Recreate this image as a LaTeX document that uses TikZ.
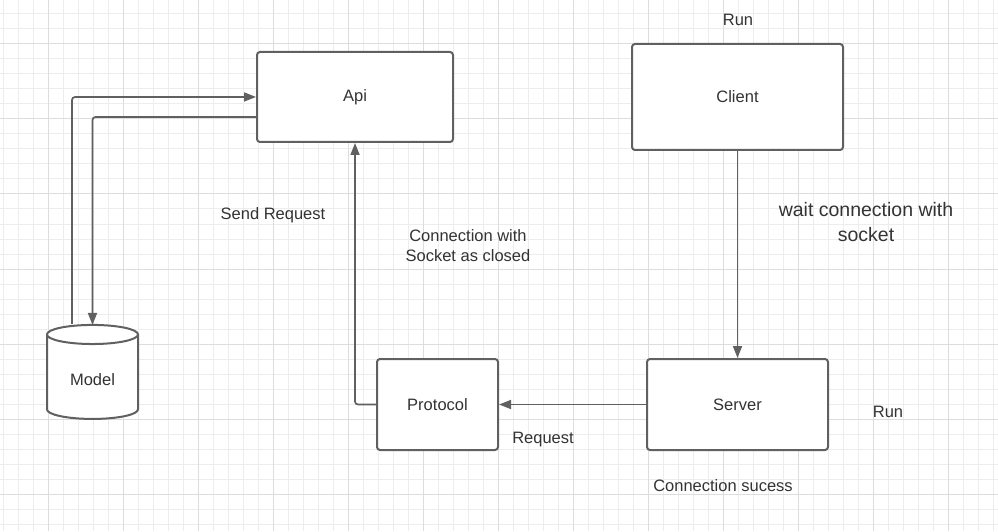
\documentclass[tikz,border=0pt]{standalone}
\usepackage{fontspec}
\setmainfont{Liberation Sans}
\usetikzlibrary{positioning}
\usetikzlibrary{shapes.geometric}
\usetikzlibrary{arrows.meta}
\definecolor{linegray}{HTML}{606060}
\definecolor{textgray}{HTML}{333333}
\definecolor{minorgrid}{HTML}{EDEDED}
\definecolor{majorgrid}{HTML}{DDDDDD}
\tikzset{
	box/.style={draw=linegray, rectangle, rounded corners=3pt, line width=2pt, fill=white, text=textgray, font=\fontsize{16.5}{20}\selectfont},
	store/.style={draw=linegray, cylinder, shape border rotate=90, aspect=0.37, line width=2pt, fill=white, text=textgray, text height=14pt, font=\fontsize{16.5}{20}\selectfont},
	note/.style={text=textgray, inner sep=0pt, align=center, font=\fontsize{16.5}{20}\selectfont},
	bignote/.style={text=textgray, inner sep=0pt, align=center, font=\fontsize{19.5}{25}\selectfont},
}

\begin{document}
\begin{tikzpicture}[x=1pt, y=1pt]
			\useasboundingbox (0,0) rectangle (998,531);
			\fill[white] (0,0) rectangle (998,531);
			% grid
			\foreach \gx in {3.3,18.3,...,998} \draw[minorgrid, line width=1pt] (\gx,0) -- (\gx,531);
			\foreach \gy in {7,22,...,531} \draw[minorgrid, line width=1pt] (0,\gy) -- (998,\gy);
			\foreach \gx in {48.3,123.3,...,998} \draw[majorgrid, line width=1pt] (\gx,0) -- (\gx,531);
			\foreach \gy in {37,112,...,531} \draw[majorgrid, line width=1pt] (0,\gy) -- (998,\gy);
			
			\node (api) [box, minimum width=196pt, minimum height=90pt] at (355,434) {Api};
			\node (client) [box, minimum width=211pt, minimum height=106pt] at (737.5,434) {Client};
			\node (protocol) [box, minimum width=121pt, minimum height=91pt] at (437.5,126.5) {Protocol};
			\node (server) [box, minimum width=181pt, minimum height=91pt] at (737.5,126.5) {Server};
			\node (model) [store, minimum width=91pt, minimum height=94pt] at (92.5,152) {Model};
			
			\node (runclient) [note] at (738,511) {Run};
			\node (sendreq) [note] at (273,316) {Send Request};
			\node (closed) [note] at (468,285) {Connection with\\Socket as closed};
			\node (wait) [bignote] at (866,309) {wait connection with\\socket};
			\node (runserver) [note] at (888,119) {Run};
			\node (request) [note] at (543,91) {Request};
			\node (success) [note] at (723,45) {Connection sucess};
			
			\begin{scope}[linegray, line width=1.7pt, rounded corners=3pt, ->, >={Triangle[length=12pt, width=9pt]}]
				\draw ([xshift=-20.5pt]model.north) |- (api.west);
				\draw ([yshift=-20pt]api.west) -| ([yshift=-1pt]model.north);
				\draw (client) -- (server);
				\draw (server) -- (protocol);
				\draw (protocol.west) -| (api.south);
			\end{scope}
		\end{tikzpicture}
\end{document}
